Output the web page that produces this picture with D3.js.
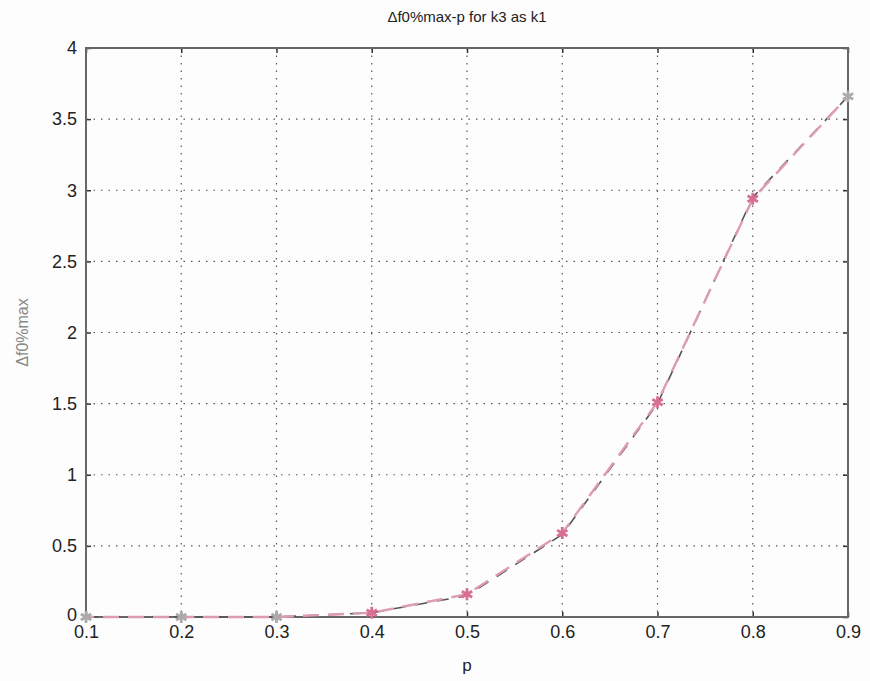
<!DOCTYPE html>
<html>
<head>
<meta charset="utf-8">
<script src="https://cdn.jsdelivr.net/npm/d3@7"></script>
<style>
  body { margin: 0; background: #fdfdfd; }
  text { font-family: "Liberation Sans", Arial, sans-serif; }
</style>
</head>
<body>
<svg id="chart" width="870" height="681"></svg>
<script>
// Data
var pValues = [0.1, 0.2, 0.3, 0.4, 0.5, 0.6, 0.7, 0.8, 0.9];
var k1Values = [0, 0, 0, 0.03, 0.15, 0.58, 1.5, 2.95, 3.66];
var k3Values = [0, 0, 0, 0.03, 0.16, 0.59, 1.51, 2.94, 3.66];
var xTicks = [0.1, 0.2, 0.3, 0.4, 0.5, 0.6, 0.7, 0.8, 0.9];
var yTicks = [0, 0.5, 1, 1.5, 2, 2.5, 3, 3.5, 4];

var margin = { left: 86, top: 48, right: 22, bottom: 64 };
var width = 870 - margin.left - margin.right;
var height = 681 - margin.top - margin.bottom;

var svg = d3.select('#chart');
var g = svg.append('g')
    .attr('transform', 'translate(' + margin.left + ',' + margin.top + ')');

var x = d3.scaleLinear().domain([0.1, 0.9]).range([0, width]);
var y = d3.scaleLinear().domain([0, 4]).range([height, 0]);

// Grid
g.append('g').selectAll('line')
    .data(xTicks.slice(1, -1))
    .enter().append('line')
    .attr('x1', function (d) { return x(d); })
    .attr('x2', function (d) { return x(d); })
    .attr('y1', 0).attr('y2', height)
    .attr('stroke', '#555').attr('stroke-width', 1.2)
    .attr('stroke-dasharray', '1.5,6');
g.append('g').selectAll('line')
    .data(yTicks.slice(1, -1))
    .enter().append('line')
    .attr('y1', function (d) { return y(d); })
    .attr('y2', function (d) { return y(d); })
    .attr('x1', 0).attr('x2', width)
    .attr('stroke', '#555').attr('stroke-width', 1.2)
    .attr('stroke-dasharray', '1.5,6');

// Axes
var xAxis = d3.axisBottom(x).tickValues(xTicks).tickSize(-5).tickPadding(8)
    .tickFormat(d3.format('.1f'));
var yAxis = d3.axisLeft(y).tickValues(yTicks).tickSize(-5).tickPadding(9)
    .tickFormat(function (d) { return d3.format('')(d); });

var gx = g.append('g').attr('transform', 'translate(0,' + height + ')').call(xAxis);
var gy = g.append('g').call(yAxis);
// ticks on top/right as well
g.append('g').call(d3.axisTop(x).tickValues(xTicks).tickSize(-5).tickFormat(''));
g.append('g').attr('transform', 'translate(' + width + ',0)')
    .call(d3.axisRight(y).tickValues(yTicks).tickSize(-5).tickFormat(''));

svg.selectAll('.domain').remove();
svg.selectAll('.tick line').attr('stroke', '#333').attr('stroke-width', 1.5);
gx.selectAll('text').attr('font-size', 18).attr('fill', '#222').attr('dy', '0.72em');
gy.selectAll('text').attr('font-size', 18).attr('fill', '#222');
gy.selectAll('text').filter(function (d) { return d === 0; }).attr('dy', '0.2em');

// Box
g.append('rect')
    .attr('x', 0).attr('y', 0)
    .attr('width', width).attr('height', height)
    .attr('fill', 'none').attr('stroke', '#666').attr('stroke-width', 2);

// Lines
var line = d3.line()
    .x(function (d, i) { return x(pValues[i]); })
    .y(function (d) { return y(d); });

g.append('path')
    .datum(k1Values)
    .attr('d', line)
    .attr('fill', 'none')
    .attr('stroke', '#555')
    .attr('stroke-width', 1.6)
    .attr('stroke-dasharray', '12,10');

g.append('path')
    .datum(k3Values)
    .attr('d', line)
    .attr('fill', 'none')
    .attr('stroke', '#dd9cb1')
    .attr('stroke-width', 2.4)
    .attr('stroke-dasharray', '16,9')
    .attr('stroke-dashoffset', 8);

// Star markers
var star = d3.symbol().type(d3.symbolAsterisk || d3.symbolStar).size(100);
g.append('g').selectAll('path')
    .data(k3Values)
    .enter().append('path')
    .attr('transform', function (d, i) { return 'translate(' + x(pValues[i]) + ',' + y(d) + ')'; })
    .attr('d', star)
    .attr('fill', 'none')
    .attr('stroke', function (d, i) { return (i < 3 || i === 8) ? '#aaa' : '#d86f93'; })
    .attr('stroke-width', 2.8);

// Labels
svg.append('text')
    .attr('x', margin.left + width / 2)
    .attr('y', 22)
    .attr('text-anchor', 'middle')
    .attr('font-size', 15)
    .attr('fill', '#222')
    .text('\u0394f0%max-p for k3 as k1');

svg.append('text')
    .attr('x', margin.left + width / 2)
    .attr('y', 671)
    .attr('text-anchor', 'middle')
    .attr('font-size', 17)
    .attr('fill', '#222')
    .text('p');

svg.append('text')
    .attr('transform', 'translate(28,' + (margin.top + height / 2) + ') rotate(-90)')
    .attr('text-anchor', 'middle')
    .attr('font-size', 16)
    .attr('fill', '#888')
    .text('\u0394f0%max');
</script>
</body>
</html>
